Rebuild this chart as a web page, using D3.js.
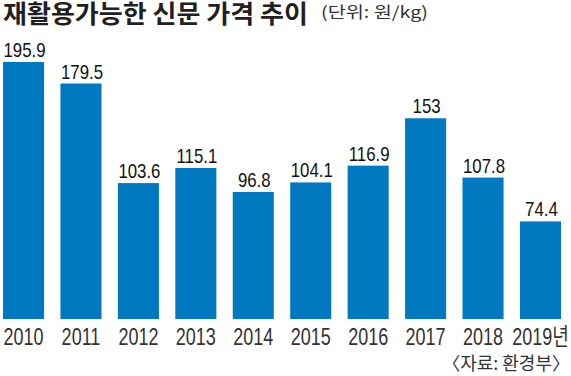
<!DOCTYPE html>
<html>
<head>
<meta charset="utf-8">
<script src="https://cdn.jsdelivr.net/npm/d3@7"></script>
<style>
  body { margin: 0; background: #fff; }
  svg { display: block; }
</style>
</head>
<body>
<svg id="chart" width="571" height="376"></svg>
<script>
const years = ["2010", "2011", "2012", "2013", "2014", "2015", "2016", "2017", "2018", "2019"];
const yearLabels = ["2010", "2011", "2012", "2013", "2014", "2015", "2016", "2017", "2018", "2019년"];
const prices = [195.9, 179.5, 103.6, 115.1, 96.8, 104.1, 116.9, 153, 107.8, 74.4];
const priceLabels = ["195.9", "179.5", "103.6", "115.1", "96.8", "104.1", "116.9", "153", "107.8", "74.4"];

const svg = d3.select("#chart");
const baseY = 319;
const numFont = "'Liberation Sans', Arial, 'Noto Sans CJK KR', sans-serif";

// squeeze text horizontally to mimic the condensed newspaper font
function squeeze(sel, ratio) {
    sel.each(function () {
        const w = this.getComputedTextLength();
        d3.select(this)
            .attr("textLength", w * ratio)
            .attr("lengthAdjust", "spacingAndGlyphs");
    });
}

const x = d3.scaleBand()
    .domain(years)
    .range([3, 561])
    .paddingInner(0.285)
    .paddingOuter(0);

const y = d3.scaleLinear()
    .domain([0, 195.9])
    .range([baseY, 62]);

// title
svg.append("text")
    .attr("x", 3)
    .attr("y", 23)
    .attr("textLength", 305)
    .attr("lengthAdjust", "spacingAndGlyphs")
    .style("font-family", "'Noto Sans CJK KR', sans-serif")
    .style("font-weight", "bold")
    .style("font-size", "25px")
    .style("fill", "#231f20")
    .text("재활용가능한 신문 가격 추이");

svg.append("text")
    .attr("x", 321)
    .attr("y", 18)
    .attr("textLength", 107)
    .attr("lengthAdjust", "spacingAndGlyphs")
    .style("font-family", "'Noto Sans CJK KR', sans-serif")
    .style("font-size", "16px")
    .style("fill", "#333")
    .text("(단위: 원/kg)");

// bars
svg.selectAll("rect.bar")
    .data(prices)
    .join("rect")
    .attr("class", "bar")
    .attr("x", (d, i) => x(years[i]))
    .attr("y", d => y(d))
    .attr("width", x.bandwidth())
    .attr("height", d => baseY - y(d))
    .attr("fill", "#0079c1");

// value labels
svg.selectAll("text.val")
    .data(prices)
    .join("text")
    .attr("class", "val")
    .attr("x", (d, i) => x(years[i]) + x.bandwidth() / 2 + 1)
    .attr("y", d => y(d) - 5)
    .attr("text-anchor", "middle")
    .style("font-family", numFont)
    .style("font-size", "21px")
    .style("fill", "#111")
    .text((d, i) => priceLabels[i])
    .call(squeeze, 0.8);

// x axis labels
const xAxis = svg.append("g")
    .attr("transform", `translate(0,${baseY})`)
    .call(d3.axisBottom(x).tickSize(0).tickPadding(0).tickFormat((d, i) => yearLabels[i]));
xAxis.select(".domain").remove();
xAxis.selectAll("text")
    .attr("y", 26)
    .attr("dy", null)
    .style("font-family", numFont)
    .style("font-size", "24px")
    .style("fill", "#333")
    .call(squeeze, 0.75);

// source
svg.append("text")
    .attr("x", 570)
    .attr("y", 370)
    .attr("text-anchor", "end")
    .style("font-family", "'Noto Sans CJK KR', sans-serif")
    .style("font-size", "18px")
    .style("fill", "#333")
    .text("〈자료: 환경부〉");
</script>
</body>
</html>
